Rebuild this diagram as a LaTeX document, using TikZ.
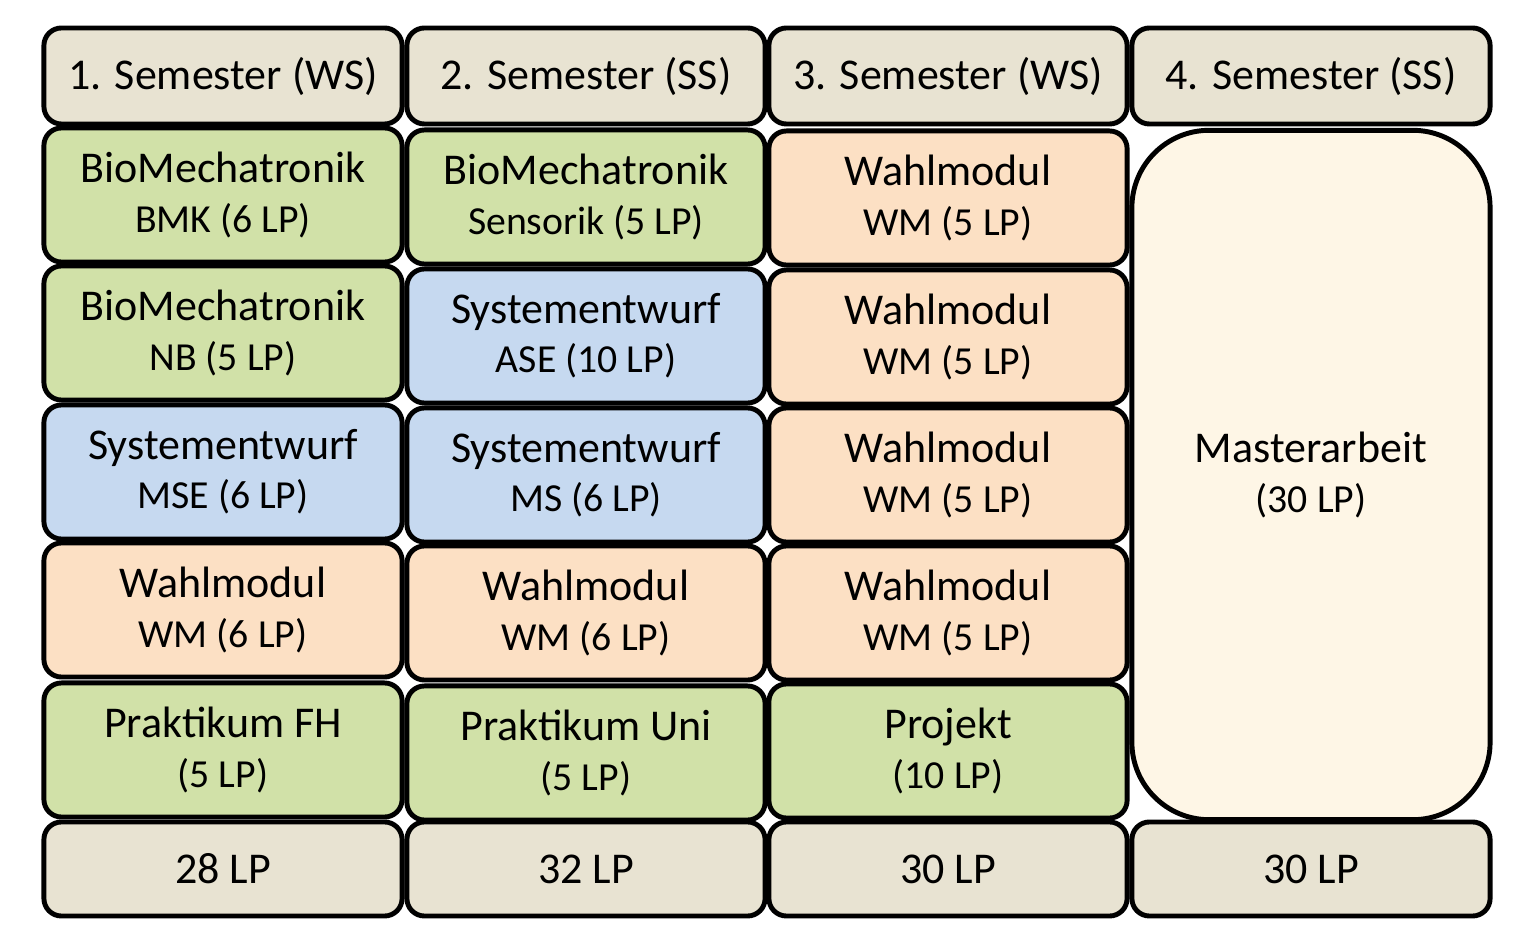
\documentclass[tikz,border=0pt]{standalone}
\usepackage{fontspec}
\setmainfont{Carlito}

\definecolor{semgray}{RGB}{232,227,210}
\definecolor{modgreen}{RGB}{209,225,168}
\definecolor{modblue}{RGB}{198,217,240}
\definecolor{modorange}{RGB}{252,224,196}
\definecolor{thesiscream}{RGB}{254,246,230}

\newcommand{\modtxt}[2]{{\fontsize{12.5}{14}\selectfont #1}\\{\fontsize{11.3}{14}\selectfont #2}}

\tikzset{
    box/.style={draw=black, line width=1.4pt, rounded corners=5pt, align=center,
        inner sep=0pt, minimum width=3.58cm, minimum height=1.34cm,
        font=\fontsize{12.5}{14}\selectfont},
    semhead/.style={box, fill=semgray, minimum height=0.96cm},
    lpsum/.style={semhead, minimum height=0.94cm},
    green/.style={box, fill=modgreen},
    blue/.style={box, fill=modblue},
    orange/.style={box, fill=modorange},
}

\begin{document}
\begin{tikzpicture}[x=0.01cm, y=-0.01cm]
    \useasboundingbox (0,0) rectangle (1526,940);

    % header row
    \node[semhead] (s1) at (223,76) {1. Semester (WS)};
    \node[semhead] (s2) at (586,76) {2. Semester (SS)};
    \node[semhead] (s3) at (948,76) {3. Semester (WS)};
    \node[semhead] (s4) at (1311,76) {4. Semester (SS)};

    % 1. Semester
    \node[green]  (a1) at (223,195) {\modtxt{BioMechatronik}{BMK (6 LP)}};
    \node[green]  (a2) at (223,333) {\modtxt{BioMechatronik}{NB (5 LP)}};
    \node[blue]   (a3) at (223,472) {\modtxt{Systementwurf}{MSE (6 LP)}};
    \node[orange] (a4) at (223,610) {\modtxt{Wahlmodul}{WM (6 LP)}};
    \node[green]  (a5) at (223,750) {\modtxt{Praktikum FH}{(5 LP)}};

    % 2. Semester
    \node[green]  (b1) at (586,197) {\modtxt{BioMechatronik}{Sensorik (5 LP)}};
    \node[blue]   (b2) at (586,336) {\modtxt{Systementwurf}{ASE (10 LP)}};
    \node[blue]   (b3) at (586,475) {\modtxt{Systementwurf}{MS (6 LP)}};
    \node[orange] (b4) at (586,613) {\modtxt{Wahlmodul}{WM (6 LP)}};
    \node[green]  (b5) at (586,753) {\modtxt{Praktikum Uni}{(5 LP)}};

    % 3. Semester
    \foreach \i/\y in {1/198, 2/337, 3/475, 4/613}
        \node[orange] (c\i) at (948,\y) {\modtxt{Wahlmodul}{WM (5 LP)}};
    \node[green]  (c5) at (948,751) {\modtxt{Projekt}{(10 LP)}};

    % 4. Semester
    \node[box, fill=thesiscream, rounded corners=22pt, minimum height=6.89cm] (d1)
        at (1311,475) {\modtxt{Masterarbeit}{(30 LP)}};

    % sums
    \node[lpsum] (l1) at (223,869) {28 LP};
    \node[lpsum] (l2) at (586,869) {32 LP};
    \node[lpsum] (l3) at (948,869) {30 LP};
    \node[lpsum] (l4) at (1311,869) {30 LP};
\end{tikzpicture}
\end{document}
